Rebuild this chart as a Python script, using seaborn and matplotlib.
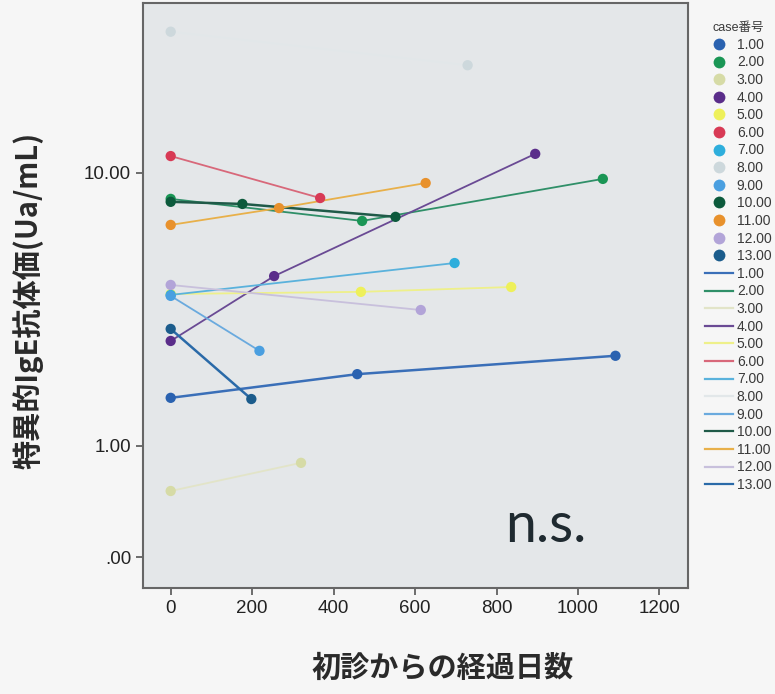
import numpy as np
import pandas as pd
import matplotlib
matplotlib.use('Agg')
import matplotlib.pyplot as plt
from matplotlib.lines import Line2D
import seaborn as sns

cases = [1, 1, 1, 2, 2, 2, 3, 3, 4, 4, 4, 5, 5, 5, 6, 6, 7, 7, 8, 8,
         9, 9, 10, 10, 10, 11, 11, 11, 12, 12, 13, 13]
days = [0, 458, 1092, 0, 470, 1061, 0, 320, 0, 254, 895, 0, 467, 836, 0, 367, 0, 697, 0, 729,
        0, 218, 0, 176, 552, 0, 266, 626, 0, 614, 0, 198]
ige = [1.70, 2.13, 2.51, 8.34, 7.14, 9.58, 0.51, 0.80, 2.85, 4.77, 11.37, 4.16, 4.23, 4.39,
       11.2, 8.39, 4.13, 5.26, 25.5, 20.5, 4.10, 2.62, 8.17, 8.05, 7.35, 6.94, 7.82, 9.31,
       4.46, 3.67, 3.15, 1.68]

case_ids = list(range(1, 14))
case_labels = ['1.00', '2.00', '3.00', '4.00', '5.00', '6.00', '7.00', '8.00', '9.00',
               '10.00', '11.00', '12.00', '13.00']
case_colors = ['#2a62b0', '#1a9655', '#d6dba6', '#5a2d8a', '#eef05a', '#d83a55', '#2eaedc',
               '#cdd8dc', '#4a9fe0', '#0c5a3c', '#e8912c', '#b2a4d8', '#1b5c8c']
line_colors = ['#3a6fb8', '#2f8f68', '#e2e4c8', '#6a4a94', '#eef08a', '#d8687a', '#5ab2dc',
               '#e2e7e9', '#6aaade', '#1f5a48', '#e8b04a', '#c8c0dc', '#2a6aa8']

df = pd.DataFrame({'case': cases, 'days': days, 'ige': ige})

plt.rcParams['font.family'] = ['Liberation Sans', 'Noto Sans CJK JP']

fig = plt.figure(figsize=(7.75, 6.94), dpi=100)
fig.patch.set_facecolor('#f6f6f6')
ax = fig.add_axes([0.1845, 0.1527, 0.7032, 0.843])
ax.set_facecolor('#e4e7e9')

# SPSS-style "safe log" axis
fwd = lambda y: np.sign(y) * np.log10(1 + np.abs(y))
inv = lambda t: np.sign(t) * (10 ** np.abs(t) - 1)
ax.set_yscale('function', functions=(fwd, inv))

for cid in case_ids:
    sub = df[df['case'] == cid]
    lw = 1.8 if cid in (1, 13, 10) else 1.3
    sns.lineplot(data=sub, x='days', y='ige', color=line_colors[cid - 1], linewidth=lw,
                 estimator=None, sort=False, legend=False, ax=ax)
    sns.scatterplot(data=sub, x='days', y='ige', color=case_colors[cid - 1], s=55,
                    edgecolor='none', legend=False, ax=ax, zorder=3)

ax.set_xlim(-68, 1270)
ax.set_ylim(-0.213, 30.7)
ax.set_xticks([0, 200, 400, 600, 800, 1000, 1200])
ax.set_yticks([0, 1, 10])
ax.set_yticklabels(['.00', '1.00', '10.00'])
ax.minorticks_off()
ax.tick_params(axis='both', labelsize=13.5, colors='#555555', labelcolor='#222222',
               length=5, width=1.2, direction='out')
for s in ax.spines.values():
    s.set_color('#666666')
    s.set_linewidth(1.5)

ax.set_xlabel('初診からの経過日数', fontsize=21, color='#2a2a2a', fontweight='bold',
              family=['Noto Sans CJK JP', 'DejaVu Sans'])
ax.xaxis.set_label_coords(0.549, -0.137)
ax.xaxis.label.set_va('center')
ax.set_ylabel('特異的IgE抗体価(Ua/mL)', fontsize=21, color='#2a2a2a', fontweight='bold',
              family=['Noto Sans CJK JP', 'DejaVu Sans'])
ax.yaxis.set_label_coords(-0.211, 0.492)
ax.yaxis.label.set_va('center')

ax.text(0.74, 0.079, 'n.s.', transform=ax.transAxes, fontsize=40, color='#1f2a30',
        ha='center', va='baseline', family='Lato')

handles = [Line2D([], [], linestyle='none', marker='o', markersize=8.5,
                  color=c, markeredgecolor='none') for c in case_colors]
handles += [Line2D([], [], color=c, linewidth=1.6) for c in line_colors]
labels = case_labels + case_labels
leg = fig.legend(handles, labels, title='case番号', loc='upper left',
                 bbox_to_anchor=(0.897, 0.982), frameon=False, fontsize=10,
                 title_fontproperties={'size': 9, 'family': ['Liberation Sans', 'Noto Sans CJK JP']},
                 labelspacing=0.26, handlelength=2.0, handletextpad=0.3, borderpad=0.2)
for t in leg.get_texts():
    t.set_color('#3a3a3a')
leg.get_title().set_color('#3a3a3a')

fig.savefig('out.png', dpi=100, facecolor=fig.get_facecolor())
